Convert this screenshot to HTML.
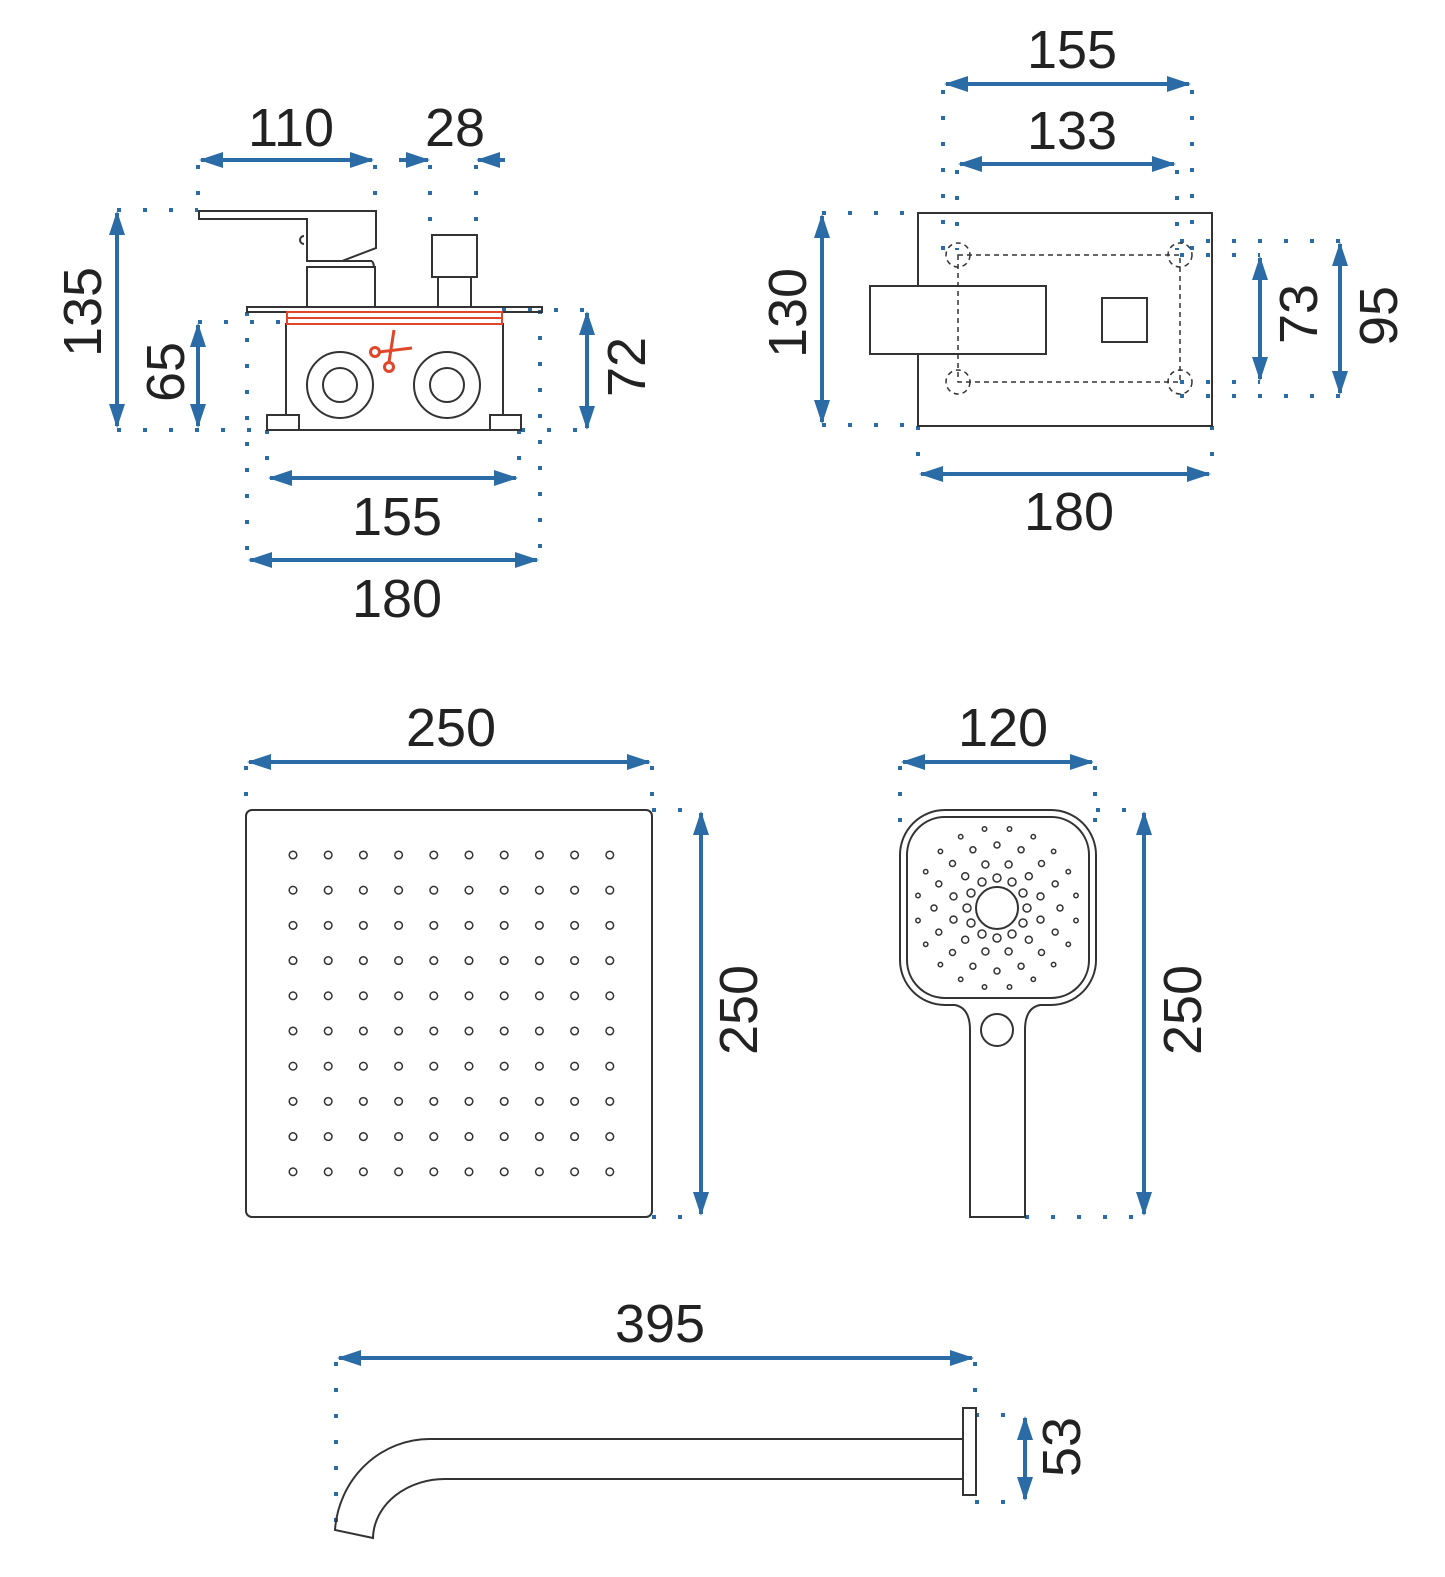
<!DOCTYPE html>
<html><head><meta charset="utf-8"><style>
html,body{margin:0;padding:0;background:#fff}
svg{display:block}
text{font-family:"Liberation Sans","DejaVu Sans",sans-serif;font-size:54px;fill:#222}
</style></head><body>
<svg id="s" width="1445" height="1577" viewBox="0 0 1445 1577" xmlns="http://www.w3.org/2000/svg">
<defs>
<marker id="a" markerWidth="6" markerHeight="4" refX="5.5" refY="2" orient="auto-start-reverse" markerUnits="strokeWidth"><path d="M0,0 L6,2 L0,4 Z" fill="#2b6ca6"/></marker>
</defs>
<g fill="none" stroke="#2b6ca6" stroke-width="4" stroke-dasharray="4 22" id="dots">
<!-- mixer -->
<path d="M198 165V210M375 165V210M430 165V235M476 165V235"/>
<path d="M117 210H198M117 430H267M198 322H286M502 310H587M521 430H587"/>
<path d="M247 312V560M540 310V550M267 430V478M519 430V478"/>
<!-- plate -->
<path d="M943 90V250M1192 90V250M957 170V250M1177 170V250"/>
<path d="M822 213H918M822 425H918M1180 241H1340M1180 255H1260M1180 382H1260M1180 396H1340"/>
<path d="M918 426V474M1212 426V474"/>
<!-- rain -->
<path d="M246 766V810M652 766V810M652 810H701M652 1217H701"/>
<path d="M900 766V830M1095 766V830M1096 810H1144M1025 1217H1144"/>
<!-- spout -->
<path d="M336 1362V1530M975 1362V1415M975 1415H1025M975 1502H1025"/>
</g>
<g stroke="#2b6ca6" stroke-width="4" fill="none" marker-start="url(#a)" marker-end="url(#a)">
<path d="M201 160H372"/>
<path d="M117 213V426"/><path d="M198 325V426"/><path d="M587 313V428"/>
<path d="M270 478H516"/><path d="M250 560H537"/>
<path d="M946 84H1189"/><path d="M960 164H1174"/>
<path d="M822 216V422"/><path d="M1260 258V379"/><path d="M1340 244V393"/>
<path d="M921 474H1209"/>
<path d="M249 762H649"/><path d="M701 813V1214"/>
<path d="M903 762H1092"/><path d="M1144 813V1214"/>
<path d="M339 1358H972"/><path d="M1025 1418V1499"/>
</g>
<g stroke="#2b6ca6" stroke-width="4" fill="none" marker-end="url(#a)">
<path d="M399 160H428"/><path d="M505 160H478"/>
</g>
<g stroke="#333" stroke-width="2" fill="none">
<!-- mixer -->
<path d="M199 211H376V248L342 261H307V219H199Z"/>
<path d="M304 236a4 4 0 0 0 0 8"/>
<path d="M308 261H372M372 261Q374 264 374 267"/>
<rect x="307" y="267" width="68" height="40"/>
<rect x="432" y="235" width="45" height="42"/><rect x="438" y="277" width="33" height="30"/>
<rect x="247" y="307" width="295" height="5"/>
<rect x="286" y="324" width="217" height="106"/>
<rect x="267" y="415" width="32" height="15" fill="#fff"/><rect x="490" y="415" width="31" height="15" fill="#fff"/>
<circle cx="340" cy="385" r="33"/><circle cx="340" cy="385" r="17"/>
<circle cx="447" cy="385" r="33"/><circle cx="447" cy="385" r="17"/>
<!-- plate -->
<rect x="918" y="213" width="294" height="213"/>
<rect x="870" y="286" width="176" height="68" fill="#fff"/>
<rect x="1102" y="298" width="45" height="44"/>
<!-- rain -->
<rect x="246" y="810" width="406" height="407" rx="6"/>
<!-- hand -->
<path d="M945 810H1051A45 45 0 0 1 1096 855V960A45 45 0 0 1 1051 1005H1040Q1025 1008 1025 1030V1217H970V1030Q970 1008 955 1005H945A45 45 0 0 1 900 960V855A45 45 0 0 1 945 810Z"/>
<rect x="907" y="817" width="182" height="181" rx="38"/>
<circle cx="997" cy="1030" r="16"/>
<circle cx="997" cy="908" r="21"/>
<!-- spout -->
<path d="M430 1439H968M447 1479H968"/>
<path d="M430 1439A95 98 0 0 0 335 1530L373 1538A72 60 0 0 1 447 1479"/>
<rect x="963" y="1408" width="13" height="87" fill="#fff"/>
</g>
<g stroke="#e0462a" stroke-width="2" fill="none">
<rect x="287" y="312" width="215" height="12"/><path d="M287 318H502"/>
<circle cx="375" cy="352" r="4.5" stroke-width="3"/><circle cx="389" cy="367" r="4.5" stroke-width="3"/>
<path d="M379 352L412 348M389 362L394 330" stroke-width="3"/>
</g>
<g stroke="#333" stroke-width="1.5" fill="none" stroke-dasharray="5 4">
<rect x="958" y="255" width="222" height="127"/>
<circle cx="958" cy="255" r="12"/><circle cx="1180" cy="255" r="12"/>
<circle cx="958" cy="382" r="12"/><circle cx="1180" cy="382" r="12"/>
</g>
<g id="holes" stroke="#333" stroke-width="1.5" fill="none"></g>
<text x="291" y="146" text-anchor="middle">110</text>
<text x="455" y="146" text-anchor="middle">28</text>
<text x="397" y="535" text-anchor="middle">155</text>
<text x="397" y="617" text-anchor="middle">180</text>
<text x="1072" y="68" text-anchor="middle">155</text>
<text x="1072" y="149" text-anchor="middle">133</text>
<text x="1069" y="530" text-anchor="middle">180</text>
<text x="451" y="746" text-anchor="middle">250</text>
<text x="1003" y="746" text-anchor="middle">120</text>
<text x="660" y="1342" text-anchor="middle">395</text>
<text transform="translate(101,312) rotate(-90)" text-anchor="middle">135</text>
<text transform="translate(184,372) rotate(-90)" text-anchor="middle">65</text>
<text transform="translate(645,367) rotate(-90)" text-anchor="middle">72</text>
<text transform="translate(806,313) rotate(-90)" text-anchor="middle">130</text>
<text transform="translate(1317,314) rotate(-90)" text-anchor="middle">73</text>
<text transform="translate(1397,316) rotate(-90)" text-anchor="middle">95</text>
<text transform="translate(757,1010) rotate(-90)" text-anchor="middle">250</text>
<text transform="translate(1201,1010) rotate(-90)" text-anchor="middle">250</text>
<text transform="translate(1080,1447) rotate(-90)" text-anchor="middle">53</text>
</svg>
<script>
var g=document.getElementById('holes'),ns='http://www.w3.org/2000/svg',h='';
for(var i=0;i<10;i++)for(var j=0;j<10;j++)h+='<circle cx="'+(293+i*35.2).toFixed(1)+'" cy="'+(855+j*35.2).toFixed(1)+'" r="3.8"/>';
var rings=[[30,12,4,0],[45,12,3.5,15],[63,16,3,0],[80,20,2.2,9]];
rings.forEach(function(r){for(var k=0;k<r[1];k++){var a=(k*360/r[1]+r[3])*Math.PI/180;var rr=r[0];var x=997+rr*Math.sin(a),y=908-rr*Math.cos(a);if(x<911||x>1085||y<821||y>994)continue;h+='<circle cx="'+x.toFixed(1)+'" cy="'+y.toFixed(1)+'" r="'+r[2]+'"/>';}});
g.innerHTML=h;
</script>
</body></html>
